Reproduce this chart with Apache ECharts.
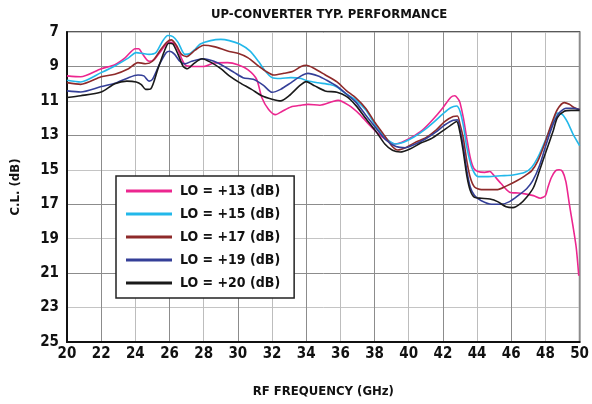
<!DOCTYPE html>
<html>
<head>
<meta charset="utf-8">
<script src="https://cdn.jsdelivr.net/npm/echarts@6/dist/echarts.min.js"></script>
<style>
  html, body { margin: 0; padding: 0; background: #fff; }
  #chart { width: 592px; height: 404px; }
</style>
</head>
<body>
<div id="chart"></div>
<script>
// conversion loss vs RF frequency, [GHz, dB]
var seriesNames = ['LO = +13 (dB)', 'LO = +15 (dB)', 'LO = +17 (dB)', 'LO = +19 (dB)', 'LO = +20 (dB)']
var xTicks = [20, 50, 2]   // min, max, step
var yTicks = [7, 25]       // labels every 2 dB from 7

var lo13 = [[20,9.55],[20.8,9.6],[22,9.13],[22.8,8.9],[23.4,8.5],[24.0,7.97],[24.2,7.97],[24.4,8.25],[24.8,8.7],[25.1,8.6],
    [25.5,8.1],[25.95,7.6],[26.1,7.6],[26.4,7.85],[26.9,8.9],[27.4,9.0],[28,9.0],[28.6,8.8],[29.4,8.78],[30,8.9],
    [30.6,9.2],[31.1,9.75],[31.4,10.8],[31.8,11.5],[32.2,11.8],[32.6,11.6],[33.1,11.35],[33.7,11.25],[34.1,11.2],[34.8,11.25],
    [35.5,11.05],[35.87,10.97],[36.5,11.26],[37.1,11.75],[37.6,12.3],[38.1,12.8],[38.6,13.2],[39.2,13.5],[39.6,13.4],[40.2,13.1],
    [40.8,12.7],[41.4,12.1],[42,11.4],[42.45,10.8],[42.7,10.7],[42.9,10.9],[43.0,11.1],[43.2,12.0],[43.4,13.2],[43.6,14.3],
    [43.8,14.9],[44.05,15.1],[44.45,15.15],[44.75,15.1],[45.0,15.35],[45.4,15.8],[45.9,16.3],[46.4,16.35],[46.8,16.4],[47.3,16.5],
    [47.7,16.65],[48,16.5],[48.15,16.0],[48.35,15.45],[48.6,15.05],[48.8,15.0],[49.0,15.1],[49.2,15.7],[49.4,17.0],[49.6,18.2],
    [49.8,19.5],[49.95,21.15]]
var lo15 = [[20,9.8],[20.8,9.9],[22,9.36],[22.8,8.97],[23.6,8.5],[24.05,8.2],[24.4,8.24],[24.8,8.3],[25.2,8.2],[25.6,7.52],
    [25.9,7.2],[26.2,7.27],[26.5,7.6],[26.9,8.3],[27.2,8.25],[27.5,8.0],[27.8,7.7],[28.4,7.5],[29,7.43],[29.5,7.5],
    [30.1,7.7],[30.7,8.1],[31.2,8.7],[31.6,9.26],[32,9.65],[32.5,9.7],[33.1,9.65],[33.7,9.7],[34.1,9.85],[34.7,9.95],
    [35.4,10.05],[35.8,10.2],[36.35,10.6],[36.9,10.95],[37.5,11.55],[38.1,12.5],[38.7,13.2],[39.25,13.5],[39.7,13.4],[40.3,13.1],
    [40.9,12.7],[41.5,12.2],[42,11.75],[42.45,11.4],[42.8,11.3],[43,11.6],[43.2,12.45],[43.4,13.7],[43.7,14.9],[44.05,15.4],
    [44.65,15.4],[45.4,15.35],[46.1,15.3],[46.8,15.15],[47.2,14.85],[47.55,14.3],[47.95,13.4],[48.35,12.45],[48.7,11.7],[49,11.8],
    [49.3,12.25],[49.6,12.9],[50,13.6]]
var lo17 = [[20,9.94],[20.8,10.04],[22,9.6],[22.8,9.45],[23.6,9.13],[24.15,8.78],[24.6,8.84],[25,8.7],[25.5,8.0],[25.85,7.58],
    [26.1,7.46],[26.4,7.77],[26.7,8.3],[27,8.43],[27.5,8.05],[28,7.77],[28.6,7.85],[29.4,8.1],[30,8.24],[30.6,8.5],
    [31.1,8.9],[31.6,9.26],[32.1,9.5],[32.7,9.4],[33.2,9.3],[33.7,9.0],[34,8.93],[34.5,9.13],[35.1,9.48],[35.8,9.9],
    [36.35,10.4],[36.9,10.82],[37.5,11.45],[38,12.23],[38.5,12.9],[39,13.6],[39.35,13.85],[39.8,13.72],[40.4,13.4],[41,13.14],
    [41.6,12.7],[42.1,12.2],[42.6,11.9],[42.85,11.88],[43,12.35],[43.2,13.2],[43.4,14.5],[43.6,15.45],[43.85,16.0],[44.25,16.15],
    [44.75,16.15],[45.2,16.15],[45.7,15.95],[46.3,15.65],[46.8,15.35],[47.2,15.05],[47.55,14.5],[47.95,13.5],[48.35,12.35],[48.7,11.5],
    [49.1,11.1],[49.4,11.2],[49.7,11.4],[50,11.5]]
var lo19 = [[20,10.42],[20.8,10.48],[22,10.17],[22.8,9.98],[23.6,9.65],[24.15,9.5],[24.5,9.55],[24.8,9.85],[25,9.75],[25.4,8.9],
    [25.8,8.2],[26,8.12],[26.3,8.3],[26.6,8.7],[26.9,8.85],[27.3,8.7],[28,8.55],[28.6,8.7],[29.2,9.0],[29.8,9.36],
    [30.3,9.65],[30.9,9.75],[31.5,10.1],[32,10.5],[32.5,10.33],[33.1,9.95],[33.7,9.55],[34.1,9.4],[34.7,9.55],[35.2,9.8],
    [35.8,10.15],[36.35,10.6],[36.9,11.07],[37.5,11.85],[38.1,12.6],[38.7,13.3],[39.25,13.65],[39.8,13.72],[40.4,13.5],[41,13.2],
    [41.6,12.8],[42.1,12.4],[42.6,12.12],[42.85,12.1],[43,12.65],[43.2,13.7],[43.4,15.05],[43.6,16.0],[43.85,16.5],[44.25,16.8],
    [44.85,17.0],[45.4,17.0],[45.9,16.85],[46.4,16.5],[46.9,16.1],[47.25,15.65],[47.65,14.77],[48.05,13.5],[48.45,12.35],[48.8,11.7],
    [49.2,11.43],[49.6,11.43],[50,11.5]]
var lo20 = [[20,10.8],[20.8,10.7],[22,10.48],[22.8,10.0],[23.5,9.85],[24.05,9.9],[24.35,10.05],[24.6,10.33],[24.9,10.3],[25.3,9.2],
    [25.7,8.1],[25.95,7.65],[26.2,7.7],[26.5,8.3],[26.8,9.0],[27.05,9.13],[27.4,8.85],[27.9,8.55],[28.4,8.75],[29,9.13],
    [29.5,9.55],[30.1,9.94],[30.8,10.33],[31.4,10.7],[32,10.9],[32.5,11.0],[33,10.7],[33.6,10.13],[34,9.88],[34.5,10.13],
    [35.1,10.42],[35.8,10.5],[36.35,10.74],[36.9,11.26],[37.5,12.04],[38.1,12.8],[38.6,13.5],[39.05,13.87],[39.5,13.97],[40.1,13.78],
    [40.7,13.45],[41.3,13.2],[41.9,12.8],[42.45,12.42],[42.8,12.2],[43,12.84],[43.2,14.0],[43.4,15.35],[43.6,16.2],[43.85,16.6],
    [44.25,16.65],[44.75,16.7],[45.2,16.85],[45.7,17.15],[46.1,17.2],[46.5,17.0],[46.9,16.6],[47.3,16.03],[47.65,15.06],[48.05,13.9],
    [48.45,12.75],[48.7,11.97],[49.1,11.6],[49.5,11.55],[50,11.55]]

var allData = [lo13, lo15, lo17, lo19, lo20]
var colors = ['#ec268f', '#22b8ea', '#8e2a2a', '#343f98', '#1a1a1a']
var fnt = '"Liberation Sans Narrow", "DejaVu Sans Condensed", sans-serif'

var chart = echarts.init(document.getElementById('chart'))
var series = []
for (var i = 0; i < allData.length; i++) {
    series.push({
        name: seriesNames[i],
        type: 'line',
        data: allData[i],
        showSymbol: false,
        smooth: 0.25,
        lineStyle: { color: colors[i], width: 1.6 },
        itemStyle: { color: colors[i] }
    })
}

chart.setOption({
    animation: false,
    backgroundColor: '#fff',
    title: {
        text: 'UP-CONVERTER TYP. PERFORMANCE',
        left: 206, top: 3,
        textStyle: { fontFamily: fnt, fontWeight: 'bold', fontSize: 13, color: '#111' }
    },
    legend: {
        orient: 'vertical',
        left: 116, top: 176,
        backgroundColor: '#fff',
        borderColor: '#222', borderWidth: 1.5,
        padding: [8, 14, 8, 10],
        itemGap: 9,
        itemWidth: 46, itemHeight: 3,
        icon: 'rect',
        data: seriesNames,
        textStyle: { fontFamily: fnt, fontWeight: 'bold', fontSize: 14, color: '#111', padding: [0, 0, 0, 3] }
    },
    grid: { left: 67, right: 9, top: 32, bottom: 62, show: true, borderColor: '#222', borderWidth: 1.5 },
    xAxis: {
        type: 'value',
        min: xTicks[0], max: xTicks[1], interval: xTicks[2],
        name: 'RF FREQUENCY (GHz)',
        nameLocation: 'middle', nameGap: 43,
        nameTextStyle: { fontFamily: fnt, fontWeight: 'bold', fontSize: 13, color: '#111' },
        axisLine: { lineStyle: { color: '#111', width: 2 } },
        axisTick: { show: false },
        axisLabel: { fontFamily: fnt, fontWeight: 'bold', fontSize: 15, color: '#111', margin: 5 },
        splitLine: { lineStyle: { color: ['#bdbdbd', '#8c8c8c'], width: 1 } }
    },
    yAxis: {
        type: 'value',
        inverse: true,
        min: yTicks[0], max: yTicks[1], interval: 1,
        name: 'C.L. (dB)',
        nameLocation: 'middle', nameGap: 45,
        nameTextStyle: { fontFamily: fnt, fontWeight: 'bold', fontSize: 13, color: '#111' },
        axisLine: { lineStyle: { color: '#111', width: 2 } },
        axisTick: { show: false },
        axisLabel: {
            fontFamily: fnt, fontWeight: 'bold', fontSize: 15, color: '#111', margin: 8,
            formatter: function(v) { return (v - yTicks[0]) % 2 === 0 ? v : '' }
        },
        // only every other split line visible (odd dB values)
        splitLine: { lineStyle: { color: ['#c4c4c4', 'rgba(0,0,0,0)', '#8c8c8c', 'rgba(0,0,0,0)'], width: 1 } }
    },
    series: series
})
</script>
</body>
</html>
